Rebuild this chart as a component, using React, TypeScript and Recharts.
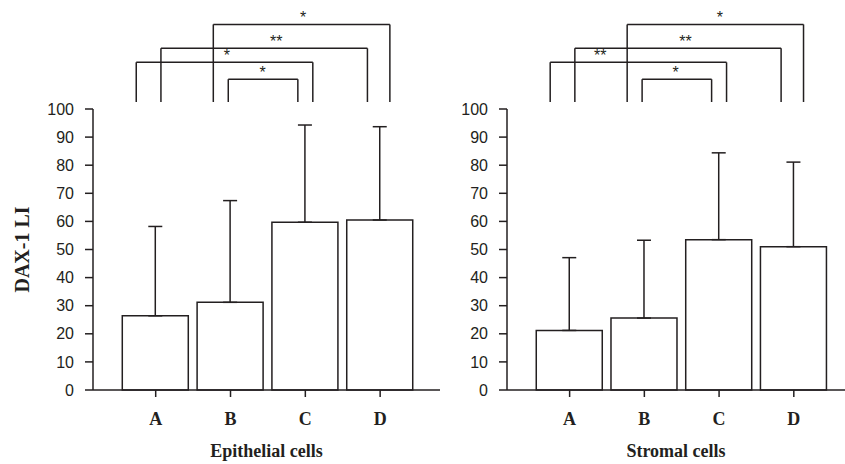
import { BarChart, Bar, XAxis, YAxis, ErrorBar, ReferenceLine, ReferenceDot } from "recharts";

const categories = ["A", "B", "C", "D"];
const epithelialMeans = [26.4, 31.2, 59.7, 60.5];
const epithelialUpper = [58.2, 67.4, 94.3, 93.7];
const stromalMeans = [21.2, 25.6, 53.5, 51.0];
const stromalUpper = [47.1, 53.3, 84.4, 81.1];
const yTicks = [0, 10, 20, 30, 40, 50, 60, 70, 80, 90, 100];

// significance brackets, legs on the category scale (A = 1), level in LI units
const bracketLeft = [1.77, 1.07, 0.74, 1.97];
const bracketRight = [4.13, 3.83, 3.1, 2.9];
const bracketLevel = [130.1, 121.6, 116.6, 110.6];
const legBase = 102.5;
const epithelialStars = ["*", "**", "*", "*"];
const epithelialStarX = [2.97, 2.61, 1.95, 2.43];
const stromalStars = ["*", "**", "**", "*"];
const stromalStarX = [3.01, 2.55, 1.41, 2.42];

const INK = "#231f20";
const SANS = "'Liberation Sans', Arial, sans-serif";
const SERIF = "'Liberation Serif', 'Times New Roman', serif";

type PanelProps = {
  means: number[];
  upper: number[];
  stars: string[];
  starX: number[];
  title: string;
  width: number;
  axisWidth: number;
  xMax: number;
  yLabel?: string;
};

const Panel: React.FC<PanelProps> = ({ means, upper, stars, starX, title, width, axisWidth, xMax, yLabel }) => {
  const data = categories.map((name, i) => ({
    pos: i + 1,
    name,
    mean: means[i],
    err: [0, +(upper[i] - means[i]).toFixed(1)],
  }));

  const line = { stroke: INK, strokeWidth: 1.5 };

  return (
    <BarChart width={width} height={464} data={data} margin={{ top: 109, right: 0, left: 0, bottom: 0 }}>
      <XAxis
        dataKey="pos"
        type="number"
        domain={[0.162, xMax]}
        allowDataOverflow
        ticks={[1, 2, 3, 4]}
        interval={0}
        tickFormatter={(v: number) => categories[v - 1]}
        tickSize={7}
        tickMargin={15}
        height={74}
        axisLine={line}
        tickLine={line}
        tick={{ fill: INK, fontSize: 18, fontFamily: SERIF, fontWeight: "bold" }}
        label={{
          value: title,
          position: "insideBottom",
          offset: 7,
          fill: INK,
          fontSize: 18,
          fontFamily: SERIF,
          fontWeight: "bold",
        }}
      />
      <YAxis
        domain={[0, 100]}
        ticks={yTicks}
        interval={0}
        width={axisWidth}
        tickSize={8}
        tickMargin={11}
        axisLine={line}
        tickLine={line}
        tick={{ fill: INK, fontSize: 16, fontFamily: SANS }}
        label={
          yLabel
            ? {
                value: yLabel,
                angle: -90,
                position: "center",
                dx: -25,
                fill: INK,
                fontSize: 20,
                fontFamily: SERIF,
                fontWeight: "bold",
              }
            : undefined
        }
      />
      <Bar dataKey="mean" fill="#fff" stroke={INK} strokeWidth={1.5} barSize={66} isAnimationActive={false}>
        <ErrorBar dataKey="err" direction="y" width={7} stroke={INK} strokeWidth={1.5} />
      </Bar>
      {bracketLevel.map((lvl, i) => [
        <ReferenceLine
          key={`l${i}`}
          ifOverflow="visible"
          {...line}
          segment={[{ x: bracketLeft[i], y: legBase }, { x: bracketLeft[i], y: lvl }]}
        />,
        <ReferenceLine
          key={`h${i}`}
          ifOverflow="visible"
          {...line}
          segment={[{ x: bracketLeft[i], y: lvl }, { x: bracketRight[i], y: lvl }]}
        />,
        <ReferenceLine
          key={`r${i}`}
          ifOverflow="visible"
          {...line}
          segment={[{ x: bracketRight[i], y: lvl }, { x: bracketRight[i], y: legBase }]}
        />,
        <ReferenceDot
          key={`s${i}`}
          x={starX[i]}
          y={lvl}
          r={0}
          ifOverflow="visible"
          stroke="none"
          fill="none"
          label={{ value: stars[i], position: "top", offset: 1, fill: INK, fontSize: 16, fontFamily: SANS }}
        />,
      ])}
    </BarChart>
  );
};

export default function App() {
  return (
    <div style={{ position: "absolute", left: 0, top: 0, width: 845, height: 464, background: "#fff" }}>
      <div style={{ position: "absolute", left: 0, top: 0 }}>
        <Panel
          means={epithelialMeans}
          upper={epithelialUpper}
          stars={epithelialStars}
          starX={epithelialStarX}
          title="Epithelial cells"
          width={440}
          axisWidth={93}
          xMax={4.8}
          yLabel="DAX-1 LI"
        />
      </div>
      <div style={{ position: "absolute", left: 420, top: 0 }}>
        <Panel
          means={stromalMeans}
          upper={stromalUpper}
          stars={stromalStars}
          starX={stromalStarX}
          title="Stromal cells"
          width={425}
          axisWidth={87}
          xMax={4.685}
        />
      </div>
    </div>
  );
}
